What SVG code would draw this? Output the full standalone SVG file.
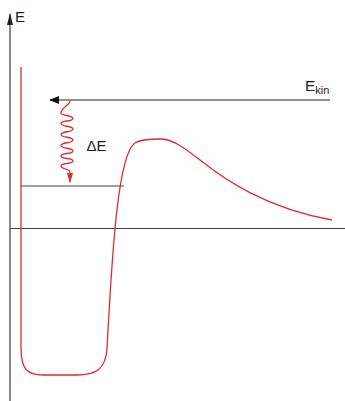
<svg xmlns="http://www.w3.org/2000/svg" width="345" height="401" viewBox="0 0 345 401">
<defs>
<style>
.txt{font-family:"Liberation Sans",Arial,sans-serif;fill:#222}
.red{fill:none;stroke:#e02a2f;stroke-width:1.3}
.ln{fill:none;stroke:#444;stroke-width:1.2}
</style>
<marker id="ah" markerWidth="10" markerHeight="8" refX="9" refY="4" orient="auto" markerUnits="userSpaceOnUse">
<path d="M0,0 L10,4 L0,8 Z" fill="#111"/>
</marker>
<marker id="ahAxis" markerWidth="12" markerHeight="6" refX="11" refY="3" orient="auto" markerUnits="userSpaceOnUse">
<path d="M0,0 L12,3 L0,6 Z" fill="#222"/>
</marker>
<marker id="ahRed" markerWidth="10" markerHeight="6" refX="9" refY="3" orient="auto" markerUnits="userSpaceOnUse">
<path d="M0,0 L10,3 L0,6 Z" fill="#e02a2f"/>
</marker>
</defs>
<rect width="345" height="401" fill="#fff"/>
<g id="axis">
<line x1="10" y1="401" x2="10" y2="14" stroke="#888" stroke-width="2" marker-end="url(#ahAxis)"/>
<text class="txt" x="15" y="22" font-size="15">E</text>
</g>
<g id="zero-level">
<line class="ln" x1="10" y1="228.5" x2="345" y2="228.5"/>
</g>
<g id="bound-level">
<line class="ln" x1="21" y1="186" x2="124" y2="186"/>
</g>
<g id="potential">
<path class="red" d="M21,67 V348 C21,370 28,375 43,375 H77 C95,375 106,370 107,348 C111,280 116,155 135,143 C140,139.5 150,139 160,139 C172,139 182,146 200,160 C224,179 265,208 332,220"/>
</g>
<g id="connectors">
<line x1="330" y1="100" x2="50" y2="100" stroke="#222" stroke-width="1" marker-end="url(#ah)"/>
<path class="red" marker-end="url(#ahRed)" d="M70,101 C70,105 61,108 61,113 C61,116 73,115 73,118.5 C73,122 61,120 61,123.5 C61,127 73,125.5 73,129 C73,132.5 61,131 61,134.5 C61,138 73,136.5 73,140 C73,143.5 61,142 61,145.5 C61,149 73,147.5 73,151 C73,154.5 61,152.5 61,156 C61,159.5 73,157.5 73,161 C73,164.5 61,162.5 61,166 C61,169 70,169 70,172 L70,182"/>
</g>
<g id="labels">
<text class="txt" x="305" y="91" font-size="15.5">E<tspan font-size="11" dy="3">kin</tspan></text>
<text class="txt" x="86.5" y="151" font-size="15">ΔE</text>
</g>
</svg>
